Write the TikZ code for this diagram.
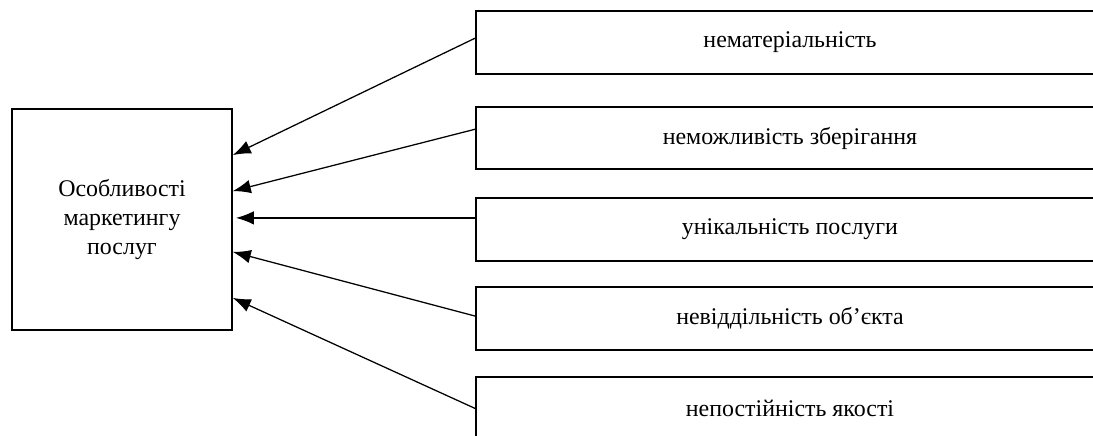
\documentclass[tikz,border=0pt]{standalone}
\usepackage{fontspec}
\setmainfont{Liberation Serif}
\usetikzlibrary{arrows.meta,positioning}

\begin{document}
\begin{tikzpicture}[
  font=\fontsize{17}{20.5}\selectfont,
  box/.style={draw, line width=1.1pt, align=center, inner sep=2pt,
    minimum width=15.7cm, minimum height=1.575cm},
  mainbox/.style={draw, line width=1.1pt, align=center,
    minimum width=5.5cm, minimum height=5.525cm},
  arr/.style={-{Latex[length=0.45cm,width=0.34cm]}, line width=0.9pt}
]
\useasboundingbox (0,0) rectangle (27.325,-10.875);
\node[mainbox] (feat) at (3.05,-5.4875) {Особливості\\маркетингу\\послуг};
\node[box] (imm) at (19.75,-1.0625) {нематеріальність};
\node[box, minimum height=1.55cm] (stor) at (19.75,-3.45) {неможливість зберігання};
\node[box] (uniq) at (19.75,-5.7375) {унікальність послуги};
\node[box] (insep) at (19.75,-7.9625) {невіддільність об’єкта};
\node[box] (qual) at (19.75,-10.2125) {непостійність якості};
\draw[arr] ([yshift=0.11cm]imm.west) -- ([yshift=1.61cm]feat.east);
\draw[arr] ([yshift=0.22cm]stor.west) -- ([yshift=0.71cm]feat.east);
\draw[arr] ([yshift=0.29cm]uniq.west) -- ([xshift=0.08cm,yshift=0.04cm]feat.east);
\draw[arr] ([yshift=0.06cm]insep.west) -- ([yshift=-0.81cm]feat.east);
\draw[arr] (qual.west) -- ([yshift=-1.96cm]feat.east);
\end{tikzpicture}
\end{document}
